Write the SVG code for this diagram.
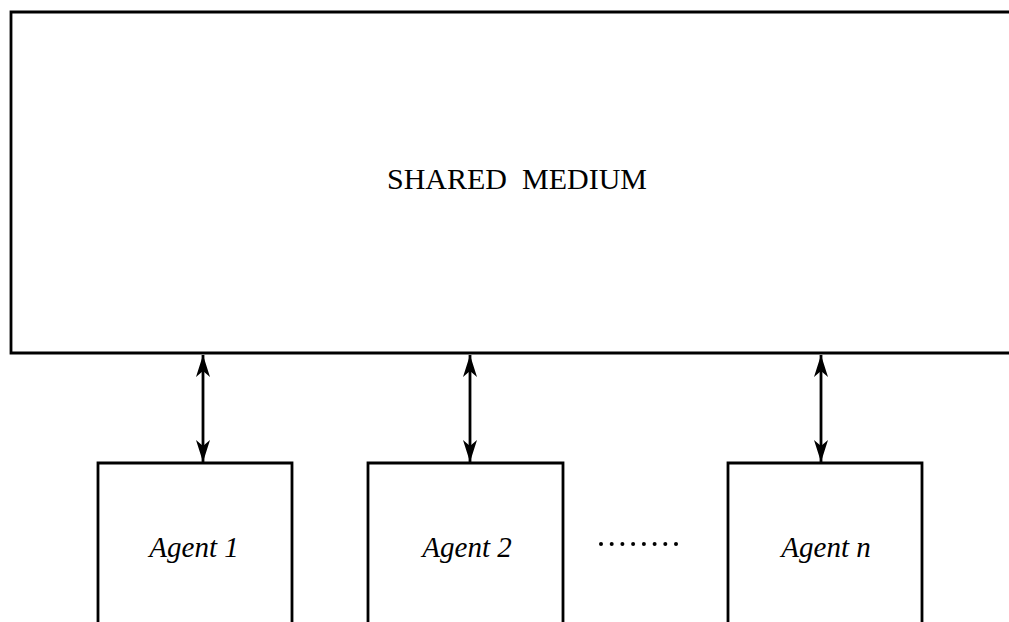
<svg xmlns="http://www.w3.org/2000/svg" width="1009" height="622" viewBox="0 0 1009 622">
  <style>
    .box { fill: none; stroke: #000; stroke-width: 2.8; }
    .link { stroke: #000; stroke-width: 2.8; fill: none; }
    .title { font-family: "Liberation Serif", "Times New Roman", serif; font-size: 30px; fill: #000; }
    .agent { font-family: "Liberation Serif", "Times New Roman", serif; font-style: italic; font-size: 29px; fill: #000; }
  </style>
  <defs>
    <marker id="head" viewBox="0 0 22 14" refX="22" refY="7" markerWidth="22" markerHeight="14" markerUnits="userSpaceOnUse" orient="auto-start-reverse">
      <path d="M0,0 L22,7 L0,14 L6,7 Z" fill="#000"/>
    </marker>
  </defs>
  <rect width="1009" height="622" fill="#fff"/>

  <g id="shared-medium">
    <path class="box" d="M1012,12 H11 V353 H1012"/>
    <text class="title" x="517" y="189" text-anchor="middle" xml:space="preserve">SHARED  MEDIUM</text>
  </g>

  <g id="connectors">
    <line class="link" x1="203" y1="355" x2="203" y2="462" marker-start="url(#head)" marker-end="url(#head)"/>
    <line class="link" x1="470" y1="355" x2="470" y2="462" marker-start="url(#head)" marker-end="url(#head)"/>
    <line class="link" x1="821" y1="355" x2="821" y2="462" marker-start="url(#head)" marker-end="url(#head)"/>
  </g>

  <g id="agent-1">
    <path class="box" d="M98,625 V463 H292 V625"/>
    <text class="agent" x="194" y="557" text-anchor="middle">Agent 1</text>
  </g>

  <g id="agent-2">
    <path class="box" d="M368,625 V463 H563 V625"/>
    <text class="agent" x="467" y="557" text-anchor="middle">Agent 2</text>
  </g>

  <g id="ellipsis">
    <g fill="#000">
      <circle cx="601" cy="544" r="2"/>
      <circle cx="611.7" cy="544" r="2"/>
      <circle cx="622.4" cy="544" r="2"/>
      <circle cx="633.1" cy="544" r="2"/>
      <circle cx="643.9" cy="544" r="2"/>
      <circle cx="654.6" cy="544" r="2"/>
      <circle cx="665.3" cy="544" r="2"/>
      <circle cx="676" cy="544" r="2"/>
    </g>
  </g>

  <g id="agent-n">
    <path class="box" d="M728,625 V463 H922 V625"/>
    <text class="agent" x="826" y="557" text-anchor="middle">Agent n</text>
  </g>
</svg>
